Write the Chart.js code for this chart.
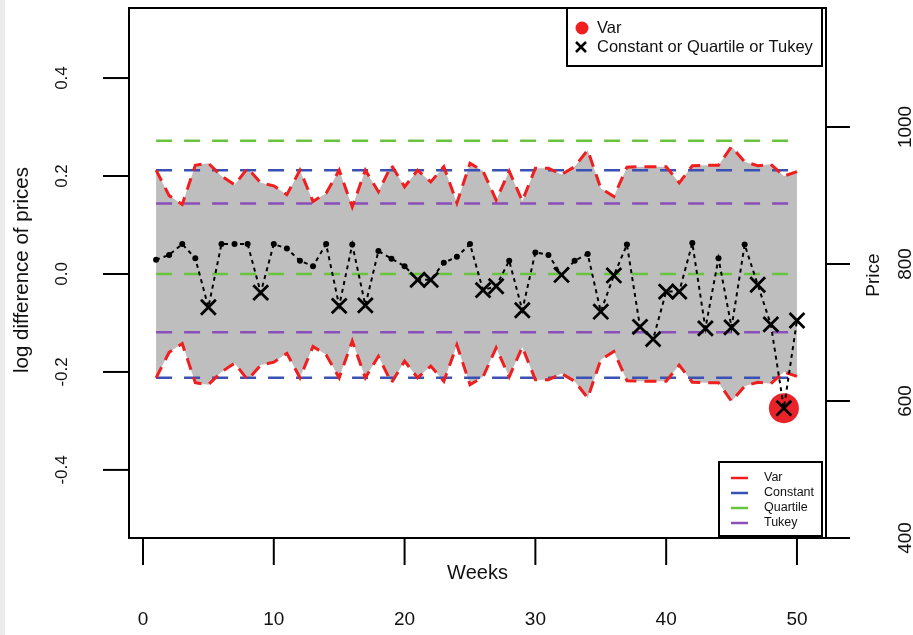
<!DOCTYPE html>
<html>
<head>
<meta charset="utf-8">
<script src="https://cdn.jsdelivr.net/npm/chart.js@4.4.1/dist/chart.umd.min.js"></script>
<style>
html,body{margin:0;padding:0;background:#ffffff;}
#wrap{position:relative;width:913px;height:635px;}
canvas{display:block;}
</style>
</head>
<body>
<div id="wrap"><canvas id="c" width="913" height="635"></canvas></div>
<script>
// ---------------- data ----------------
const weeks = [1,2,3,4,5,6,7,8,9,10,11,12,13,14,15,16,17,18,19,20,21,22,23,24,25,
               26,27,28,29,30,31,32,33,34,35,36,37,38,39,40,41,42,43,44,45,46,47,48,49,50];
const logDiff = [0.029,0.039,0.061,0.032,-0.068,0.061,0.061,0.061,-0.038,0.061,
                 0.052,0.027,0.016,0.061,-0.065,0.060,-0.064,0.047,0.031,0.016,
                 -0.012,-0.012,0.023,0.035,0.061,-0.033,-0.025,0.027,-0.074,0.044,
                 0.039,-0.002,0.027,0.041,-0.077,-0.003,0.060,-0.108,-0.133,-0.036,
                 -0.036,0.063,-0.111,0.032,-0.109,0.060,-0.022,-0.103,-0.274,-0.095];
const outlierWeeks = [5,9,15,17,21,22,26,27,29,32,35,36,38,39,40,41,43,45,47,48,49,50];
const varOutlierWeeks = [49];
const varBand = [0.212,0.160,0.142,0.222,0.226,0.200,0.182,0.216,0.186,0.180,
                 0.162,0.212,0.148,0.165,0.212,0.137,0.212,0.168,0.222,0.178,
                 0.212,0.188,0.219,0.145,0.226,0.210,0.151,0.210,0.149,0.216,
                 0.216,0.203,0.219,0.253,0.175,0.158,0.218,0.219,0.219,0.219,
                 0.186,0.221,0.222,0.222,0.260,0.229,0.221,0.224,0.200,0.209];
const constantLimits = [0.212, -0.212];
const quartileLimits = [0.272, 0.0];
const tukeyLimits = [0.144, -0.119];
const xTicks = [0,10,20,30,40,50];
const yTicks = [-0.4,-0.2,0.0,0.2,0.4];
const yTickLabels = ["-0.4","-0.2","0.0","0.2","0.4"];
const priceTicks = [400,600,800,1000];

// ---------------- styles ----------------
const FONT = '"Liberation Sans", Arial, Helvetica, sans-serif';
const RED = '#f01e1e', BLUE = '#3a50b4', GREEN = '#68c43c', PURPLE = '#8a50b8', GREY = '#bebebe';

const upperPts = weeks.map((w,i)=>({x:w,y:varBand[i]}));
const lowerPts = weeks.map((w,i)=>({x:w,y:-varBand[i]}));
const seriesPts = weeks.map((w,i)=>({x:w,y:logDiff[i]}));
const varPts = varOutlierWeeks.map(w=>({x:w,y:logDiff[weeks.indexOf(w)]}));
const hline = (v)=>[{x:weeks[0],y:v},{x:weeks[weeks.length-1],y:v}];
const isOut = (ctx)=>{const p=ctx.raw; return p && outlierWeeks.includes(p.x);};

function hds(label,v,color){
  return {label, data:hline(v), borderColor:color, borderWidth:2.5, borderDash:[16,12],
          pointRadius:0, fill:false, order:5};
}

const datasets = [
  {label:'bandU', data:upperPts, borderWidth:0, borderColor:'rgba(0,0,0,0)', backgroundColor:GREY,
   pointRadius:0, fill:'+1', order:20},
  {label:'bandL', data:lowerPts, borderWidth:0, borderColor:'rgba(0,0,0,0)', pointRadius:0, fill:false, order:19},
  hds('cU',constantLimits[0],BLUE), hds('cL',constantLimits[1],BLUE),
  hds('qU',quartileLimits[0],GREEN), hds('qL',quartileLimits[1],GREEN),
  hds('tU',tukeyLimits[0],PURPLE), hds('tL',tukeyLimits[1],PURPLE),
  {label:'varU', data:upperPts, borderColor:RED, borderWidth:3, borderDash:[12,8], pointRadius:0, fill:false, order:4},
  {label:'varL', data:lowerPts, borderColor:RED, borderWidth:3, borderDash:[12,8], pointRadius:0, fill:false, order:4},
  {label:'varOut', data:varPts, showLine:false, pointStyle:'circle', pointRadius:15, pointHoverRadius:15,
   backgroundColor:'#e8232a', borderColor:'#e8232a', borderWidth:0, order:2},
  {label:'series', data:seriesPts, borderColor:'#000', borderWidth:2, borderDash:[4,4], fill:false,
   pointStyle:(ctx)=>isOut(ctx)?'crossRot':'circle',
   pointRadius:(ctx)=>isOut(ctx)?10.5:3,
   pointBorderWidth:(ctx)=>isOut(ctx)?2.8:0,
   pointBackgroundColor:'#000', pointBorderColor:'#000', order:1}
];

const axesPlugin = {
  id:'rAxes',
  beforeDraw(chart){
    const c = chart.ctx;
    c.save();
    c.fillStyle = '#ffffff'; c.fillRect(0,0,chart.width,chart.height);
    c.fillStyle = '#ececec'; c.fillRect(0,0,5,chart.height);
    c.restore();
  },
  afterDraw(chart){
    const c = chart.ctx, a = chart.chartArea;
    const sx = chart.scales.x, sy = chart.scales.y, sp = chart.scales.y2;
    c.save();
    c.strokeStyle = '#000'; c.fillStyle = '#000'; c.lineWidth = 2;
    // ---- top legend ----
    const L1 = {l:a.right-259, t:a.top, w:255, h:58};
    c.fillStyle='#fff'; c.fillRect(L1.l,L1.t,L1.w,L1.h);
    c.strokeRect(L1.l,L1.t,L1.w,L1.h);
    c.fillStyle=RED; c.beginPath(); c.arc(L1.l+15,L1.t+20,6.5,0,Math.PI*2); c.fill();
    c.strokeStyle='#000'; c.lineWidth=2.5; c.beginPath();
    c.moveTo(L1.l+9,L1.t+34); c.lineTo(L1.l+19,L1.t+44); c.moveTo(L1.l+19,L1.t+34); c.lineTo(L1.l+9,L1.t+44); c.stroke();
    c.fillStyle='#111'; c.font='16.5px '+FONT; c.textBaseline='middle'; c.textAlign='left';
    c.fillText('Var', L1.l+30, L1.t+20);
    c.fillText('Constant or Quartile or Tukey', L1.l+30, L1.t+39);
    // ---- bottom legend ----
    const L2 = {l:a.right-107, t:a.bottom-76, w:103, h:74};
    c.fillStyle='#fff'; c.fillRect(L2.l,L2.t,L2.w,L2.h);
    c.strokeStyle='#000'; c.lineWidth=2; c.strokeRect(L2.l,L2.t,L2.w,L2.h);
    const items=[['Var',RED],['Constant',BLUE],['Quartile',GREEN],['Tukey',PURPLE]];
    c.font='12.5px '+FONT;
    items.forEach((it,i)=>{
      const yy = L2.t+16+i*15;
      c.strokeStyle=it[1]; c.lineWidth=2.5; c.beginPath(); c.moveTo(L2.l+12,yy); c.lineTo(L2.l+29,yy); c.stroke();
      c.fillStyle='#111'; c.fillText(it[0], L2.l+45, yy);
    });
    // ---- box ----
    c.strokeStyle='#000'; c.lineWidth=2;
    c.strokeRect(a.left,a.top,a.right-a.left,a.bottom-a.top);
    // ---- left axis ----
    c.fillStyle='#111';
    c.font='17px '+FONT; c.textAlign='center'; c.textBaseline='middle';
    yTicks.forEach((v,i)=>{
      const py = sy.getPixelForValue(v);
      c.beginPath(); c.moveTo(a.left-26,py); c.lineTo(a.left,py); c.stroke();
      c.save(); c.translate(a.left-67,py); c.rotate(-Math.PI/2); c.fillText(yTickLabels[i],0,0); c.restore();
    });
    c.font='20.5px '+FONT;
    c.save(); c.translate(22,(a.top+a.bottom)/2-3); c.rotate(-Math.PI/2); c.fillText('log difference of prices',0,0); c.restore();
    // ---- right axis ----
    c.font='19px '+FONT;
    priceTicks.forEach(v=>{
      const py = sp.getPixelForValue(v);
      c.beginPath(); c.moveTo(a.right,py); c.lineTo(a.right+24,py); c.stroke();
      c.save(); c.translate(a.right+80,py); c.rotate(-Math.PI/2); c.fillText(String(v),0,0); c.restore();
    });
    c.font='19px '+FONT;
    c.save(); c.translate(a.right+48,(a.top+a.bottom)/2+2); c.rotate(-Math.PI/2); c.fillText('Price',0,0); c.restore();
    // ---- x axis ----
    xTicks.forEach(v=>{
      const px = sx.getPixelForValue(v);
      c.beginPath(); c.moveTo(px,a.bottom); c.lineTo(px,a.bottom+27); c.stroke();
      c.font='19px '+FONT; c.fillText(String(v),px,a.bottom+82);
    });
    c.font='20px '+FONT;
    c.fillText('Weeks',(a.left+a.right)/2,a.bottom+35);
    c.restore();
  }
};

new Chart(document.getElementById('c'), {
  type:'line',
  data:{datasets},
  options:{
    responsive:false, animation:false, devicePixelRatio:1,
    layout:{autoPadding:false, padding:{left:129,top:8,right:87,bottom:97}},
    plugins:{legend:{display:false}, tooltip:{enabled:false}, filler:{drawTime:'beforeDatasetsDraw'}},
    elements:{line:{tension:0}},
    scales:{
      x:{type:'linear', min:-1.07, max:52.22, display:false},
      y:{type:'linear', min:-0.539, max:0.543, display:false},
      y2:{type:'linear', min:400, max:1173.7, display:false, position:'right'}
    }
  },
  plugins:[axesPlugin]
});
</script>
</body>
</html>
